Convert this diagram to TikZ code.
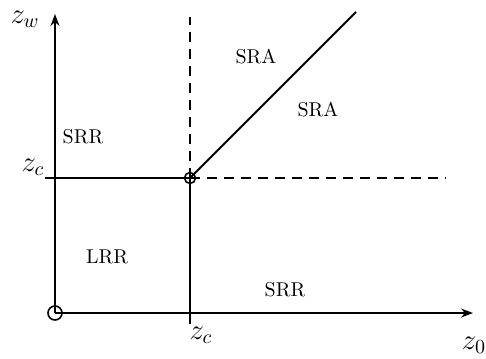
\documentclass[tikz,border=0pt]{standalone}
\usetikzlibrary{arrows.meta,positioning}

\begin{document}
\begin{tikzpicture}[
        x=0.5pt, y=-0.5pt,
        axis/.style={-{Stealth[length=6pt,width=4.5pt,inset=2pt]}, line width=0.9pt},
        edge/.style={line width=0.9pt},
        dashline/.style={line width=0.9pt, dash pattern=on 5pt off 3.5pt},
        pt/.style={circle, draw, line width=0.8pt, inner sep=0pt},
        lab/.style={font=\Large},
        region/.style={font=\normalsize}
    ]
    \useasboundingbox (0,0) rectangle (486,358);

    \node[pt, minimum size=7pt] (O) at (55,313) {};
    \node[pt, minimum size=5.5pt] (C) at (190,178) {};
    \coordinate (ytop) at (55,14);
    \coordinate (xend) at (473,313);
    \coordinate (tickw) at (45,178);
    \coordinate (ticks) at (190,324);
    \coordinate (dtop) at (190,17);
    \coordinate (dright) at (446,178);
    \coordinate (diag) at (356,12);

    % axes
    \draw[axis] (O.center) -- (ytop);
    \draw[axis] (O.center) -- (xend);

    % boundaries
    \draw[edge] (tickw) -- (C.center);
    \draw[edge] (C.center) -- (ticks);
    \draw[edge] (C.center) -- (diag);
    \draw[dashline] (C.center) -- (dtop);
    \draw[dashline] (C.center) -- (dright);

    % axis labels
    \node[lab] (zw) at (25,19) {$z_w$};
    \node[lab] (zcl) at (33,167) {$z_c$};
    \node[lab] (zcb) at (201,335) {$z_c$};
    \node[lab] (z0) at (474,345) {$z_0$};

    % regions
    \node[region] (srr1) at (83,137) {SRR};
    \node[region] (sra1) at (256,57) {SRA};
    \node[region] (sra2) at (318,110) {SRA};
    \node[region] (lrr) at (107,257) {LRR};
    \node[region] (srr2) at (285,290) {SRR};
\end{tikzpicture}
\end{document}
